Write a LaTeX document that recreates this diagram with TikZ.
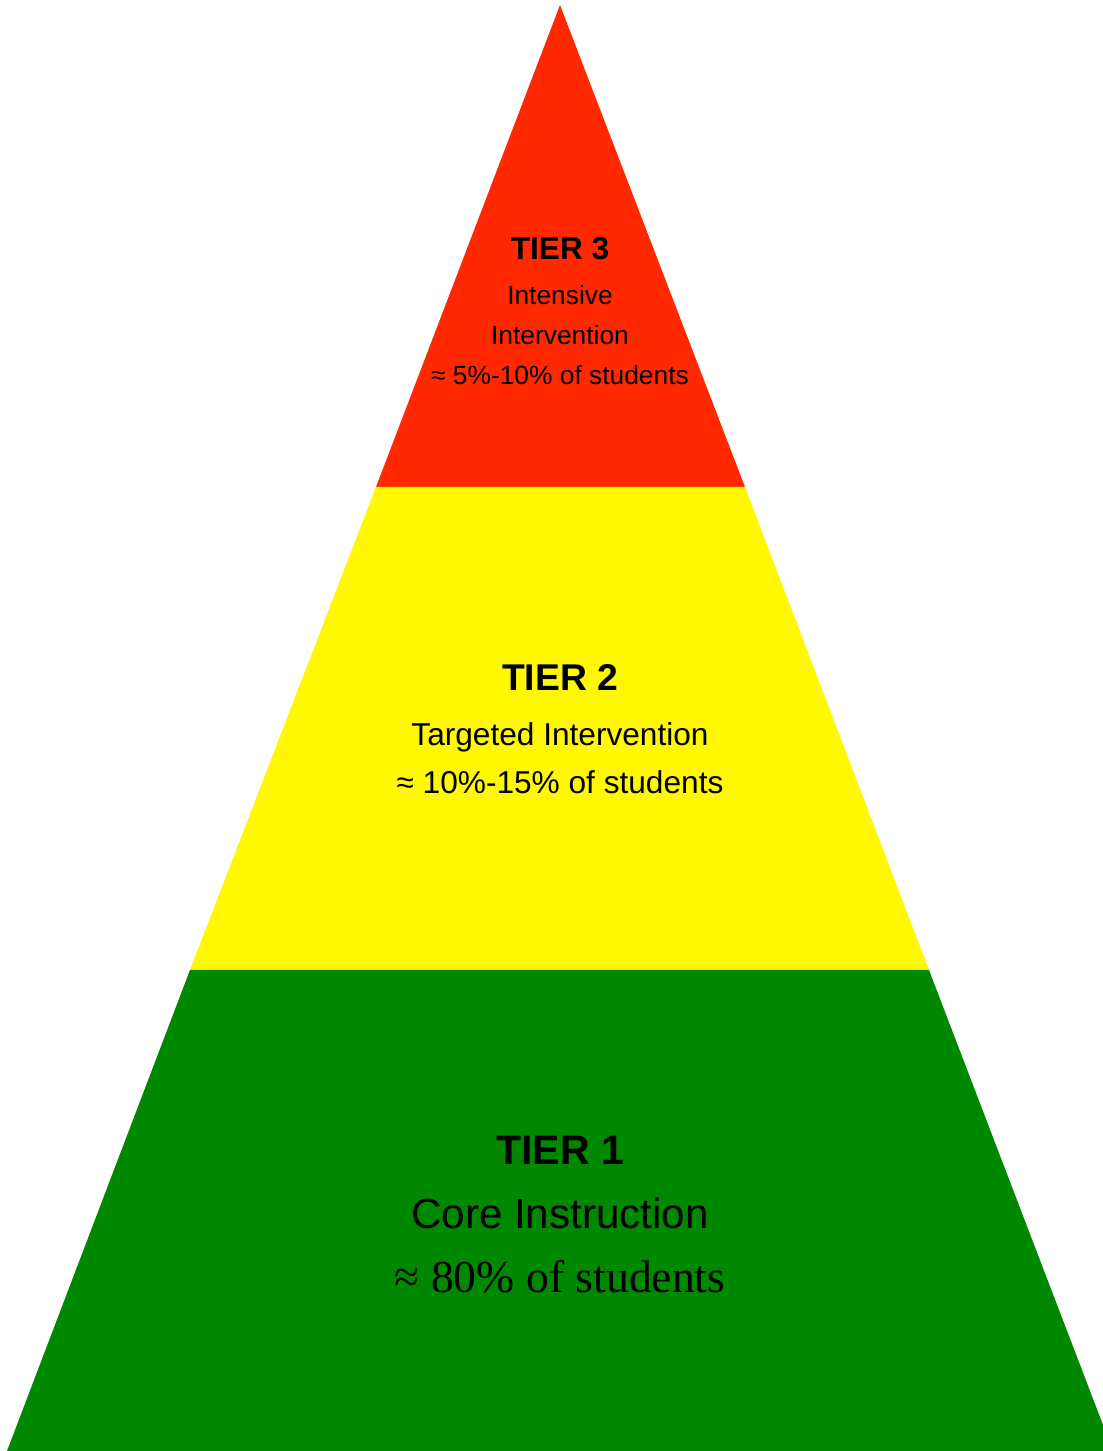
\documentclass[tikz,border=0pt]{standalone}
\usepackage{fontspec}
\setmainfont{Liberation Sans}
\newfontfamily\mathlike{Liberation Serif}
\usepackage{tikz}
\usetikzlibrary{calc,positioning}

\definecolor{tierred}{RGB}{255,40,0}
\definecolor{tieryellow}{RGB}{255,248,0}
\definecolor{tiergreen}{RGB}{0,136,0}

\begin{document}
\begin{tikzpicture}[
  every node/.style={inner sep=0pt, anchor=base, text=black},
  head/.style={font=\fontsize{#1}{#1}\selectfont\bfseries},
  txt/.style={font=\fontsize{#1}{#1}\selectfont},
]
\useasboundingbox (0,0) rectangle (11.03,14.51);

%% ── Pyramid corners ─────────────────────────────────────────────────────
\coordinate (apex) at (5.60,14.46);
\coordinate (L3) at (3.76,9.64);  \coordinate (R3) at (7.45,9.64);
\coordinate (L2) at (1.90,4.81);  \coordinate (R2) at (9.29,4.81);
\coordinate (L1) at (0.07,0);     \coordinate (R1) at (11.13,0);

%% ── Tiers ───────────────────────────────────────────────────────────────
\fill[tierred]    (apex) -- (L3) -- (R3) -- cycle;
\fill[tieryellow] (L3) -- (L2) -- (R2) -- (R3) -- cycle;
\fill[tiergreen]  (L2) -- (L1) -- (R1) -- (R2) -- cycle;

%% ── Tier 3 ──────────────────────────────────────────────────────────────
\node[head=9pt]   (T3)  at (5.60,11.91) {TIER 3};
\node[txt=7.5pt]  (T3a) at (5.60,11.46) {Intensive};
\node[txt=7.5pt]  (T3b) at (5.60,11.06) {Intervention};
\node[txt=7.5pt]  (T3c) at (5.60,10.66) {≈ 5\%-10\% of students};

%% ── Tier 2 ──────────────────────────────────────────────────────────────
\node[head=10.6pt] (T2)  at (5.60,7.60) {TIER 2};
\node[txt=9pt]     (T2a) at (5.60,7.05) {Targeted Intervention};
\node[txt=9pt]     (T2b) at (5.60,6.57) {≈ 10\%-15\% of students};

%% ── Tier 1 ──────────────────────────────────────────────────────────────
\node[head=11.7pt] (T1)  at (5.60,2.86) {TIER 1};
\node[txt=12pt]    (T1a) at (5.60,2.22) {Core Instruction};
\node[font=\fontsize{13pt}{13pt}\selectfont\mathlike] (T1b) at (5.60,1.59)
    {≈ 80\% of students};
\end{tikzpicture}
\end{document}
